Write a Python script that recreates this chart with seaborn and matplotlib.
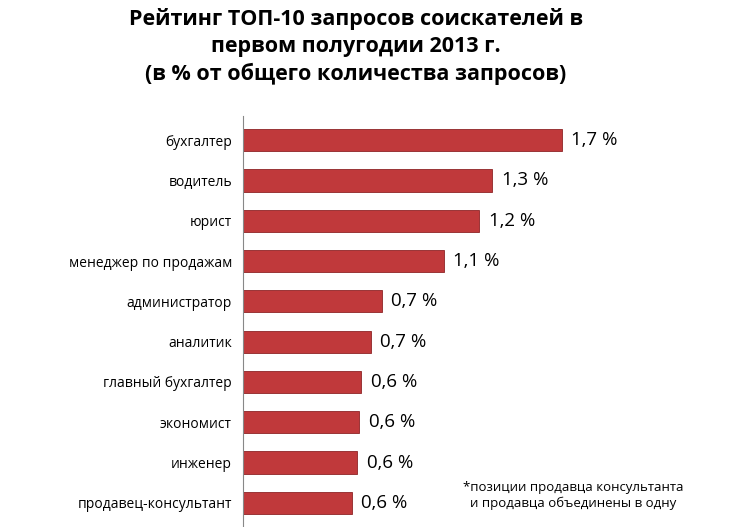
import matplotlib
matplotlib.use("Agg")
import matplotlib.pyplot as plt
import seaborn as sns
import pandas as pd

categories = ["бухгалтер", "водитель", "юрист", "менеджер по продажам", "администратор",
              "аналитик", "главный бухгалтер", "экономист", "инженер", "продавец-консультант"]
values = [1.70, 1.33, 1.26, 1.07, 0.74, 0.68, 0.63, 0.62, 0.61, 0.58]
labels = ["1,7 %", "1,3 %", "1,2 %", "1,1 %", "0,7 %", "0,7 %", "0,6 %", "0,6 %", "0,6 %", "0,6 %"]

df = pd.DataFrame({"cat": categories, "val": values})
plt.rcParams["font.family"] = "Open Sans"
fig = plt.figure(figsize=(7.41, 5.27), dpi=100)
ax = fig.add_axes([0.328, 0.0, 0.62, 0.78])
sns.barplot(data=df, x="val", y="cat", color="#C0393B", width=0.55, ax=ax,
            edgecolor="#8E2426", linewidth=0.6, saturation=1)
for i, (v, l) in enumerate(zip(values, labels)):
    ax.text(v + 0.05, i, l, va="center", ha="left", fontsize=13.5)
ax.set_xlim(0, 2.45)
ax.set_ylim(9.6, -0.6)
ax.set_xlabel(""); ax.set_ylabel("")
ax.set_xticks([])
ax.tick_params(axis="y", length=0, labelsize=10, pad=8)
for s in ["top", "right", "bottom"]:
    ax.spines[s].set_visible(False)
ax.spines["left"].set_color("#888888")
fig.text(0.48, 0.985, "Рейтинг ТОП-10 запросов соискателей в\nпервом полугодии 2013 г.\n(в % от общего количества запросов)",
         ha="center", va="top", fontsize=15.5, fontweight="bold", linespacing=1.35)
fig.text(0.625, 0.06, "*позиции продавца консультанта\n  и продавца объединены в одну",
         ha="left", va="center", fontsize=9.5)
fig.savefig("out.png", dpi=100)
